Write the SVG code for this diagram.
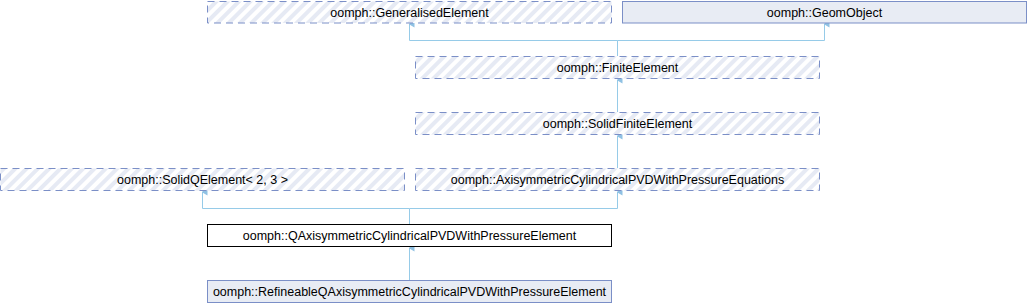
<svg xmlns="http://www.w3.org/2000/svg" width="1027" height="304" viewBox="0 0 1027 304">
<defs>
<pattern id="hatch" patternUnits="userSpaceOnUse" width="8" height="8" patternTransform="rotate(45)">
<rect width="8" height="8" fill="#ffffff"/>
<rect width="4" height="8" fill="#e6eaf4"/>
</pattern>
<marker id="arr" markerWidth="8" markerHeight="8" refX="4" refY="1" orient="auto-start-reverse" markerUnits="userSpaceOnUse" viewBox="0 0 8 8">
<path d="M4,0 L7.5,6 L0.5,6 Z" fill="#8fc1e3"/>
</marker>
</defs>
<style>
.virt{fill:url(#hatch);stroke:#7b8fc7;stroke-width:1;stroke-dasharray:7,5}
.ext{fill:#e8ecf4;stroke:#7b8fc7;stroke-width:1}
.cur{fill:#ffffff;stroke:#000000;stroke-width:1}
text{font-family:"Liberation Sans",Arial,sans-serif;font-size:12.5px;fill:#000000;text-anchor:middle}
.edge{fill:none;stroke:#96cbe8;stroke-width:1}
</style>
<g id="connectors">
<path class="edge" d="M617.5,56 V40.5 H409.5"/>
<path class="edge" d="M409.5,40.5 V24" marker-end="url(#arr)"/>
<path class="edge" d="M617.5,40.5 H824.5 V24" marker-end="url(#arr)"/>
<path class="edge" d="M617.5,112 V80" marker-end="url(#arr)"/>
<path class="edge" d="M617.5,168 V136" marker-end="url(#arr)"/>
<path class="edge" d="M409.5,224 V208.5 H202.5 V192" marker-end="url(#arr)"/>
<path class="edge" d="M409.5,208.5 H617.5 V192" marker-end="url(#arr)"/>
<path class="edge" d="M409.5,280 V248" marker-end="url(#arr)"/>
</g>
<g id="GeneralisedElement">
<rect class="virt" x="207.5" y="1.5" width="404" height="21.5"/>
<text x="409.5" y="16.5">oomph::GeneralisedElement</text>
</g>
<g id="GeomObject">
<rect class="ext" x="622.5" y="1.5" width="404" height="21.5"/>
<text x="824.5" y="16.5">oomph::GeomObject</text>
</g>
<g id="FiniteElement">
<rect class="virt" x="415.5" y="56.5" width="404" height="22"/>
<text x="617.5" y="71.5">oomph::FiniteElement</text>
</g>
<g id="SolidFiniteElement">
<rect class="virt" x="415.5" y="112.5" width="404" height="22"/>
<text x="617.5" y="127.5">oomph::SolidFiniteElement</text>
</g>
<g id="SolidQElement">
<rect class="virt" x="0.5" y="168.5" width="404" height="22"/>
<text x="202.5" y="183.5">oomph::SolidQElement&lt; 2, 3 &gt;</text>
</g>
<g id="AxisymmetricCylindricalPVDWithPressureEquations">
<rect class="virt" x="415.5" y="168.5" width="404" height="22"/>
<text x="617.5" y="183.5">oomph::AxisymmetricCylindricalPVDWithPressureEquations</text>
</g>
<g id="QAxisymmetricCylindricalPVDWithPressureElement">
<rect class="cur" x="207.5" y="224.5" width="404" height="22"/>
<text x="409.5" y="239.5">oomph::QAxisymmetricCylindricalPVDWithPressureElement</text>
</g>
<g id="RefineableQAxisymmetricCylindricalPVDWithPressureElement">
<rect class="ext" x="207.5" y="280.5" width="404" height="22"/>
<text x="409.5" y="295.5">oomph::RefineableQAxisymmetricCylindricalPVDWithPressureElement</text>
</g>
</svg>
